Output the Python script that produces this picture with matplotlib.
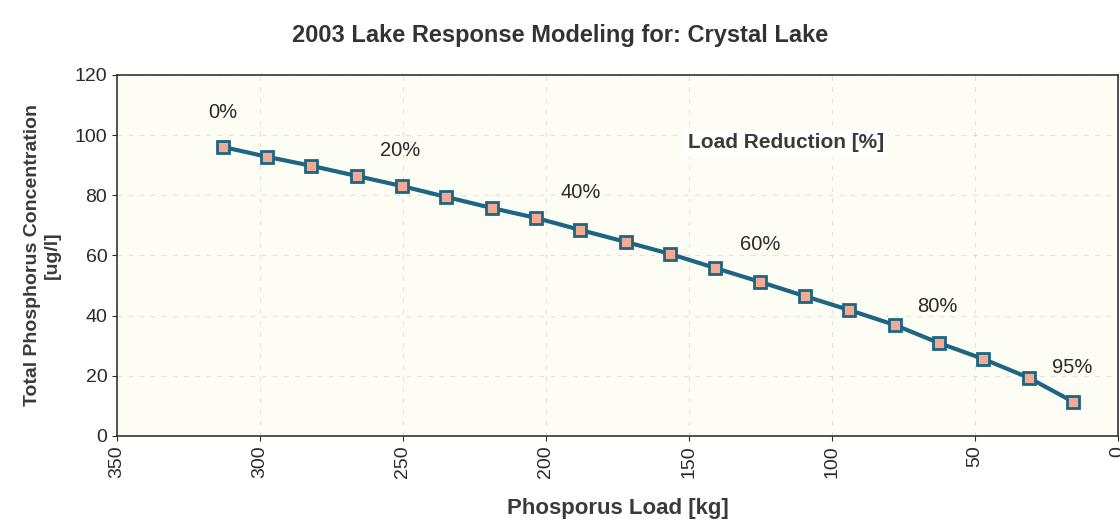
import matplotlib
matplotlib.use("Agg")
import matplotlib.pyplot as plt

plt.rcParams['font.family'] = ['Liberation Sans', 'DejaVu Sans']

# phosphorus load [kg] and resulting total P concentration [ug/l]
load = [313, 297.5, 282, 266, 250.5, 235, 219, 203.5, 188, 172,
        156.5, 141, 125, 109.5, 94, 78, 62.5, 47, 31, 15.5]
conc = [96.1, 92.8, 89.8, 86.4, 83.1, 79.5, 75.8, 72.5, 68.5, 64.5,
        60.5, 55.9, 51.2, 46.5, 41.9, 36.9, 30.9, 25.6, 19.3, 11.3]

# reduction labels and where they sit
red_labels = ["0%", "20%", "40%", "60%", "80%", "95%"]
red_x = [313, 251, 188, 125, 63, 16]
red_y = [107.6, 95, 81, 63.5, 43, 22.6]

fig = plt.figure(figsize=(11.2, 5.27), dpi=100)
ax = fig.add_axes([0.1045, 0.1727, 0.8935, 0.685])
ax.set_facecolor("#fdfdf4")

ax.plot(load, conc, color="#1d6583", lw=3, marker="s", ms=9,
        mfc="#f2ab92", mec="#1d6583", mew=2, zorder=3)

for lab, x, y in zip(red_labels, red_x, red_y):
    ax.text(x, y, lab, ha="center", va="center", fontsize=14.5, color="#2a2a2a")

ax.text(116, 97.4, "Load Reduction [%]", ha="center", va="center",
        fontsize=15, fontweight="bold", color="#3a3a3a",
        bbox=dict(facecolor="white", edgecolor="none", pad=3))

ax.set_xlim(350, 0)
ax.set_ylim(0, 120)
ax.set_xticks(range(350, -1, -50))
ax.set_yticks(range(0, 121, 20))
ax.tick_params(axis="x", labelrotation=90, labelsize=14, colors="#2a2a2a")
ax.tick_params(axis="y", labelsize=14, colors="#2a2a2a")
ax.grid(True, color="#c8c8c8", ls=(0, (4, 6)), lw=0.8, alpha=0.5)

for s in ax.spines.values():
    s.set_color("#333333")
    s.set_linewidth(1.2)

ax.set_title("2003 Lake Response Modeling for: Crystal Lake", fontsize=17,
             fontweight="bold", color="#333333", pad=24, x=0.443)
ax.set_xlabel("Phosporus Load [kg]", fontsize=16, fontweight="bold",
              color="#3a3a3a", labelpad=14)
ax.set_ylabel("Total Phosphorus Concentration\n[ug/l]", fontsize=14,
              fontweight="bold", color="#3a3a3a", labelpad=10)

fig.savefig("out.png", dpi=100, facecolor="white")
